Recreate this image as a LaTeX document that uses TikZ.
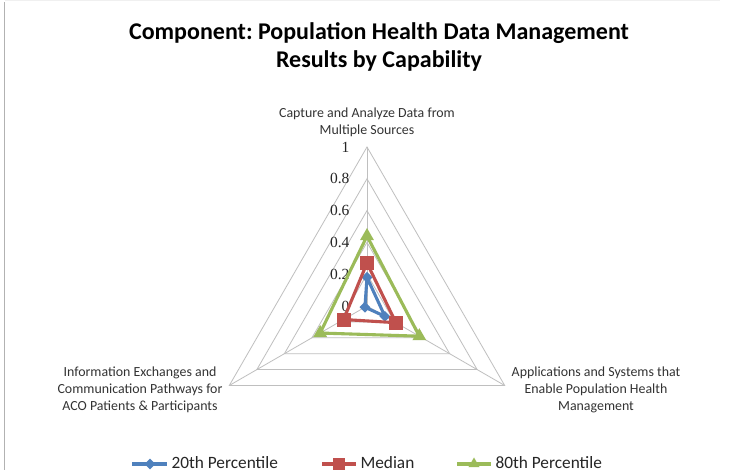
\documentclass[tikz,border=0pt]{standalone}
\usepackage{fontspec}
\setmainfont{Carlito}
\newfontfamily\numfont{Liberation Serif}
\usetikzlibrary{shapes.geometric}
\definecolor{serblue}{HTML}{4F81BD}
\definecolor{serred}{HTML}{C0504D}
\definecolor{sergreen}{HTML}{9BBB59}
\definecolor{gridgray}{HTML}{BFBFBF}
\frenchspacing
\begin{document}
\begin{tikzpicture}[x=1pt,y=1pt,
  gridline/.style={draw=gridgray, line width=0.8pt},
  ser/.style={line width=3.1pt, line join=round},
  bluemark/.style={diamond, fill=serblue, inner sep=0pt, minimum size=11pt},
  redmark/.style={rectangle, fill=serred, inner sep=0pt, minimum size=14pt},
  greenmark/.style={regular polygon, regular polygon sides=3, fill=sergreen, inner sep=0pt, minimum size=16pt},
  catlabel/.style={align=center, text=black!80, font=\fontsize{13.9}{17}\selectfont},
  numlabel/.style={anchor=east, font=\numfont\fontsize{15.5}{15.5}\selectfont, text=black!85},
  legtext/.style={anchor=base west, font=\fontsize{17.3}{19}\selectfont, text=black!85},
  titletext/.style={font=\bfseries\fontsize{24}{28}\selectfont, align=center}
]
\useasboundingbox (0,0) rectangle (731,470);
\fill[white] (0,0) rectangle (731,470);
\draw[gray!60, line width=1.6pt] (4.5,0) -- (4.5,468);
\draw[gray!12, line width=1pt] (5,469) -- (720,469);

\node[titletext] (title) at (379,423) {Component: Population Health Data Management\\Results by Capability};

\begin{scope}[shift={(367,164)}]
  \foreach \r in {0.2,0.4,0.6,0.8,1}
    \draw[gridline] (90:{\r*159}) -- (-30:{\r*159}) -- (210:{\r*159}) -- cycle;
  \coordinate (ctr) at (0,0);
  \coordinate (vtop) at (90:159);
  \coordinate (vright) at (-30:159);
  \coordinate (vleft) at (210:159);
  \draw[gridline] (ctr) -- (vtop);
  \draw[gridline] (ctr) -- (vright);
  \draw[gridline] (ctr) -- (vleft);
  \foreach \v/\t in {0/0,0.2/0.2,0.4/0.4,0.6/0.6,0.8/0.8,1/1}
    \node[numlabel] (n\t) at (-14,{\v*159}) {\t};

  % blue series
  \coordinate (b1) at (90:{0.18*159});
  \coordinate (b2) at (-30:{0.13*159});
  \coordinate (b3) at (210:{0.015*159});
  \draw[ser, serblue] (b1) -- (b2) -- (b3) -- cycle;
  \node[bluemark] (bm1) at (b1) {};
  \node[bluemark] (bm2) at (b2) {};
  \node[bluemark] (bm3) at (b3) {};
  % red series
  \coordinate (r1) at (90:{0.27*159});
  \coordinate (r2) at (-30:{0.21*159});
  \coordinate (r3) at (210:{0.17*159});
  \draw[ser, serred] (r1) -- (r2) -- (r3) -- cycle;
  \node[redmark] (rm1) at (r1) {};
  \node[redmark] (rm2) at (r2) {};
  \node[redmark] (rm3) at (r3) {};
  % green series
  \coordinate (g1) at (90:{0.44*159});
  \coordinate (g2) at (-30:{0.38*159});
  \coordinate (g3) at (210:{0.34*159});
  \draw[ser, sergreen] (g1) -- (g2) -- (g3) -- cycle;
  \node[greenmark] (gm1) at (g1) {};
  \node[greenmark] (gm2) at (g2) {};
  \node[greenmark] (gm3) at (g3) {};
\end{scope}

\node[catlabel] (cattop) at (367,348) {Capture and Analyze Data from\\Multiple Sources};
\node[catlabel] (catleft) at (140,80) {Information Exchanges and\\Communication Pathways for\\ACO Patients \& Participants};
\node[catlabel] (catright) at (596,80) {Applications and Systems that\\Enable Population Health\\Management};

% legend
\coordinate (lb1) at (132,6); \coordinate (lb2) at (167,6);
\draw[ser, serblue] (lb1) -- (lb2);
\node[bluemark] (lbm) at (150,6) {};
\node[legtext] (lbt) at (168,1.5) {20th Percentile};
\coordinate (lr1) at (322,6); \coordinate (lr2) at (356,6);
\draw[ser, serred] (lr1) -- (lr2);
\node[redmark, minimum size=12pt] (lrm) at (339,6) {};
\node[legtext] (lrt) at (357,1.5) {Median};
\coordinate (lg1) at (457,6); \coordinate (lg2) at (491,6);
\draw[ser, sergreen] (lg1) -- (lg2);
\node[greenmark, minimum size=13pt] (lgm) at (474,6) {};
\node[legtext] (lgt) at (492,1.5) {80th Percentile};
\end{tikzpicture}
\end{document}
